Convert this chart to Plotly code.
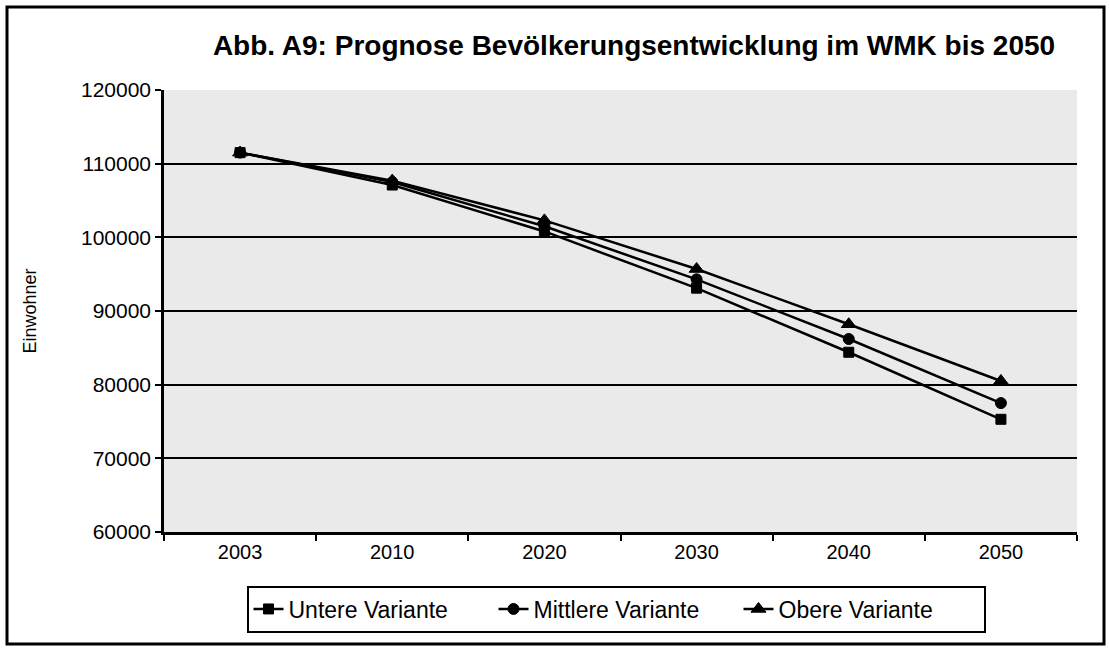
import plotly.graph_objects as go

years = ["2003", "2010", "2020", "2030", "2040", "2050"]
untere = [111500, 107100, 100800, 93100, 84400, 75300]
mittlere = [111500, 107500, 101500, 94300, 86200, 77500]
obere = [111500, 107700, 102300, 95700, 88200, 80500]
names = ["Untere Variante", "Mittlere Variante", "Obere Variante"]
symbols = ["square", "circle", "triangle-up"]
sizes = [10, 11, 13]

fig = go.Figure()
for name, vals, sym, sz in zip(names, [untere, mittlere, obere], symbols, sizes):
    fig.add_trace(go.Scatter(
        x=years, y=vals, name=name, mode="lines+markers",
        line=dict(color="black", width=2.5),
        marker=dict(symbol=sym, color="black", size=sz,
                    line=dict(color="black", width=1)),
    ))

FONT = "Liberation Sans, Arial, sans-serif"
L, R, T, B = 164, 1077, 90, 532
PW, PH = R - L, B - T
fig.update_layout(
    width=1109, height=651,
    margin=dict(l=L, r=1109 - R, t=T, b=651 - B),
    paper_bgcolor="white", plot_bgcolor="#EAEAEA",
    font=dict(family=FONT, size=21, color="black"),
    showlegend=True,
    title=dict(text="<b>Abb. A9: Prognose Bevölkerungsentwicklung im WMK bis 2050</b>",
               x=634/1109, xanchor="center", y=1 - 45/651, yanchor="middle",
               font=dict(size=28, family=FONT)),
    xaxis=dict(type="category", range=[-0.5, 5.5], tickson="boundaries", ticks="outside",
               ticklen=6, tickwidth=2, tickcolor="black", showline=True, linecolor="black",
               linewidth=2.5, showgrid=False, tickfont=dict(size=20)),
    yaxis=dict(range=[60000, 120000], dtick=10000, tickformat="d", ticks="outside", ticklen=6,
               tickwidth=2, tickcolor="black", showline=True, linecolor="black", linewidth=2.5,
               showgrid=True, gridcolor="black", gridwidth=1.5, zeroline=False,
               tickfont=dict(size=21),
               title=dict(text="Einwohner", font=dict(size=18), standoff=40)),
    legend=dict(orientation="h", x=(616 - L)/PW, xanchor="center", y=-(609-B)/PH,
                yanchor="middle", bordercolor="black", borderwidth=2, bgcolor="white",
                font=dict(size=23), itemwidth=30, tracegroupgap=0, entrywidth=200,
                entrywidthmode="pixels"),
)
fig.add_shape(type="rect", xref="paper", yref="paper",
              x0=-(L-7)/PW, x1=1+(1104-R)/PW,
              y0=-(644-B)/PH, y1=1+(T-7)/PH,
              line=dict(color="black", width=3), fillcolor="rgba(0,0,0,0)", layer="above")
fig.write_html("out.html", config={"displayModeBar": False},
               post_script="document.body.style.margin='0';")
